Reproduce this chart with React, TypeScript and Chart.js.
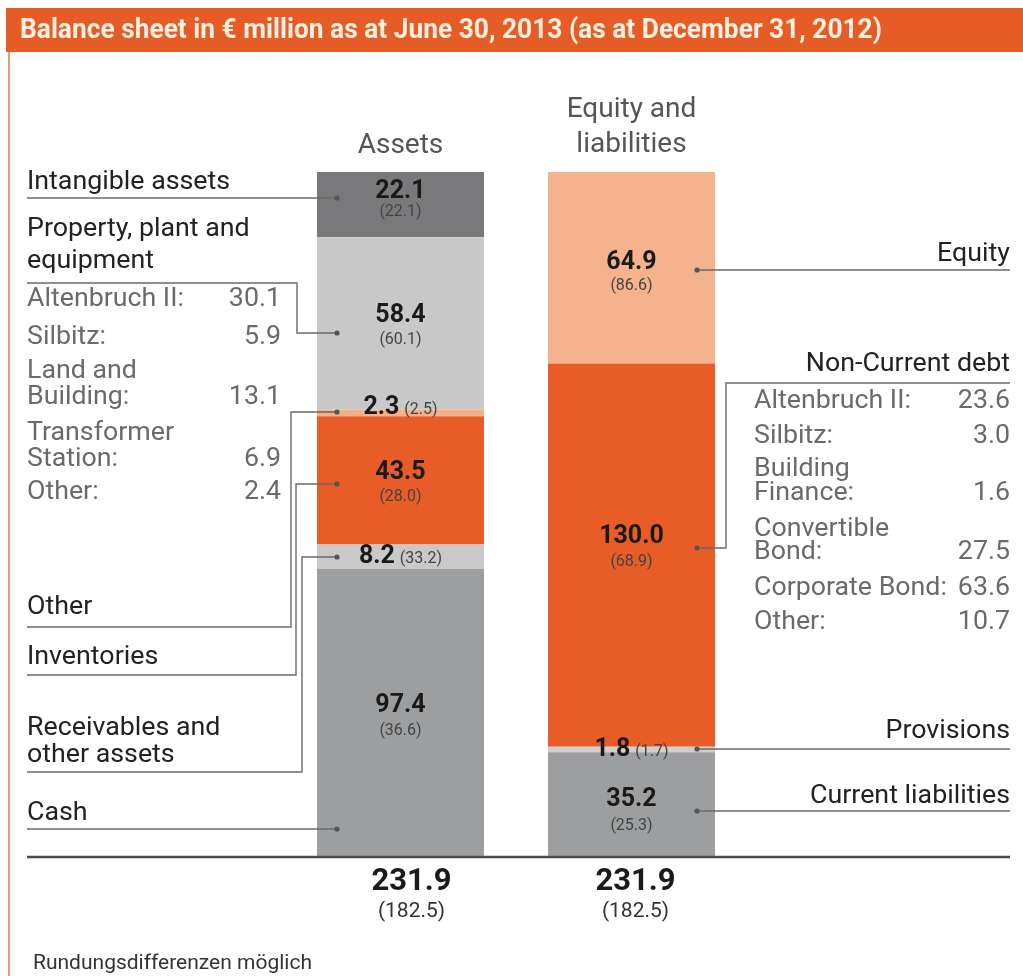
import React, { useEffect, useRef } from 'react';
import { Chart, registerables } from 'chart.js';

Chart.register(...registerables);

// ---------- data ----------
const categories = ['Assets', 'Equity and liabilities'];
const assetItems = ['Cash', 'Receivables and other assets', 'Inventories', 'Other', 'Property, plant and equipment', 'Intangible assets'];
const assetValues = [97.4, 8.2, 43.5, 2.3, 58.4, 22.1];
const assetPrior = [36.6, 33.2, 28.0, 2.5, 60.1, 22.1];
const liabilityItems = ['Current liabilities', 'Provisions', 'Non-Current debt', 'Equity'];
const liabilityValues = [35.2, 1.8, 130.0, 64.9];
const liabilityPrior = [25.3, 1.7, 68.9, 86.6];
const ppeItems = ['Altenbruch II:', 'Silbitz:', 'Land and\nBuilding:', 'Transformer\nStation:', 'Other:'];
const ppeValues = ['30.1', '5.9', '13.1', '6.9', '2.4'];
const debtItems = ['Altenbruch II:', 'Silbitz:', 'Building\nFinance:', 'Convertible\nBond:', 'Corporate Bond:', 'Other:'];
const debtValues = ['23.6', '3.0', '1.6', '27.5', '63.6', '10.7'];
const totals = ['231.9', '231.9'];
const totalsPrior = ['182.5', '182.5'];
const titleText = 'Balance sheet in € million as at June 30, 2013 (as at December 31, 2012)';
const footnote = 'Rundungsdifferenzen möglich';

// ---------- styles ----------
const assetColors = ['#9c9ea0', '#c9c9c9', '#e85d27', '#f4b089', '#c8c8c8', '#79797b'];
const liabilityColors = ['#9c9ea0', '#cfcfcf', '#e85d27', '#f4b38c'];
const ORANGE = '#e65c27';
const FONT = 'Roboto';
const LINE = '#6a6a6a';

// label layout (pixels)
const assetLabelLayout = [
  { lines: [813], path: [[27, 829], [337, 829]], boldY: 706, priorY: 731 },
  { lines: [728, 755], path: [[27, 772], [302, 772], [302, 557], [337, 557]], inline: 557 },
  { lines: [657], path: [[27, 675], [296, 675], [296, 484], [337, 484]], boldY: 473, priorY: 497 },
  { lines: [607], path: [[27, 627], [291, 627], [291, 412], [337, 412]], inline: 408 },
  { lines: [229, 261], path: [[27, 283], [297, 283], [297, 333], [337, 333]], boldY: 316, priorY: 340 },
  { lines: [182], path: [[27, 198], [337, 198]], boldY: 192, priorY: 212 },
];
const assetLabelText = [['Cash'], ['Receivables and', 'other assets'], ['Inventories'], ['Other'], ['Property, plant and', 'equipment'], ['Intangible assets']];
const liabilityLabelLayout = [
  { lines: [796], path: [[1010, 811], [697, 811]], boldY: 800, priorY: 826 },
  { lines: [731], path: [[1010, 749], [697, 749]], inline: 750 },
  { lines: [364], path: [[1010, 383], [726, 383], [726, 548], [697, 548]], boldY: 537, priorY: 562 },
  { lines: [254], path: [[1010, 270], [697, 270]], boldY: 263, priorY: 286 },
];
const ppeRows = [[300], [338], [372, 398], [434, 460], [493]];
const debtRows = [[402], [437], [470, 494], [530, 553], [589], [623]];

function txt(ctx: CanvasRenderingContext2D, s: string, x: number, y: number, font: string, color: string, align: CanvasTextAlign = 'left', sx = 1) {
  ctx.save();
  ctx.font = font;
  ctx.fillStyle = color;
  ctx.textBaseline = 'middle';
  ctx.textAlign = align;
  ctx.translate(x, y);
  ctx.scale(sx, 1);
  ctx.fillText(s, 0, 0);
  ctx.restore();
}

function leader(ctx: CanvasRenderingContext2D, pts: number[][]) {
  ctx.save();
  ctx.strokeStyle = LINE;
  ctx.lineWidth = 1.4;
  ctx.beginPath();
  pts.forEach((p, i) => (i === 0 ? ctx.moveTo(p[0], p[1]) : ctx.lineTo(p[0], p[1])));
  ctx.stroke();
  const end = pts[pts.length - 1];
  ctx.fillStyle = '#555';
  ctx.beginPath();
  ctx.arc(end[0], end[1], 2.6, 0, Math.PI * 2);
  ctx.fill();
  ctx.restore();
}

const decorPlugin = {
  id: 'decor',
  beforeDraw(chart: any) {
    const ctx = chart.ctx as CanvasRenderingContext2D;
    ctx.save();
    ctx.fillStyle = '#ffffff';
    ctx.fillRect(0, 0, chart.width, chart.height);
    // header band
    ctx.fillStyle = ORANGE;
    ctx.fillRect(6, 8, chart.width - 6, 44);
    // left frame line
    ctx.strokeStyle = '#ec9a72';
    ctx.lineWidth = 2;
    ctx.beginPath();
    ctx.moveTo(9, 52);
    ctx.lineTo(9, chart.height);
    ctx.stroke();
    ctx.restore();
    txt(ctx, titleText, 20, 31, `bold 27px ${FONT}`, '#fbf0e0', 'left', 0.975);
  },
  afterDatasetsDraw(chart: any) {
    const ctx = chart.ctx as CanvasRenderingContext2D;
    const xs = chart.scales.x;
    const cxA = xs.getPixelForValue(0);
    const cxL = xs.getPixelForValue(1);

    // column headers
    txt(ctx, 'Assets', cxA, 146, `28px ${FONT}`, '#555', 'center');
    txt(ctx, 'Equity and', cxL, 110, `28px ${FONT}`, '#555', 'center');
    txt(ctx, 'liabilities', cxL, 145, `28px ${FONT}`, '#555', 'center');

    const boldF = `bold 25px ${FONT}`;
    const priorF = `16px ${FONT}`;

    const drawValues = (lay: any, v: number, p: number, cx: number) => {
      if (lay.inline !== undefined) {
        ctx.save();
        ctx.font = boldF;
        const w1 = ctx.measureText(v.toFixed(1)).width;
        ctx.font = priorF;
        const w2 = ctx.measureText(`(${p.toFixed(1)})`).width;
        ctx.restore();
        const gap = 5;
        const start = cx - (w1 + gap + w2) / 2;
        txt(ctx, v.toFixed(1), start, lay.inline, boldF, '#1a1a1a');
        txt(ctx, `(${p.toFixed(1)})`, start + w1 + gap, lay.inline + 2, priorF, '#444');
      } else {
        txt(ctx, v.toFixed(1), cx, lay.boldY, boldF, '#1a1a1a', 'center');
        txt(ctx, `(${p.toFixed(1)})`, cx, lay.priorY, priorF, '#444', 'center');
      }
    };

    const labelF = `26px ${FONT}`;
    const labelSx = 1.03;
    assetItems.forEach((_, i) => {
      const lay = assetLabelLayout[i];
      drawValues(lay, assetValues[i], assetPrior[i], cxA);
      assetLabelText[i].forEach((s, j) => txt(ctx, s, 27, lay.lines[j], labelF, '#222', 'left', labelSx));
      leader(ctx, lay.path);
    });
    liabilityItems.forEach((name, i) => {
      const lay = liabilityLabelLayout[i];
      drawValues(lay, liabilityValues[i], liabilityPrior[i], cxL);
      txt(ctx, name, 1010, lay.lines[0], labelF, '#222', 'right', labelSx);
      leader(ctx, lay.path);
    });

    // breakdowns
    const subF = `25px ${FONT}`;
    const subSx = 1.07;
    ppeItems.forEach((s, i) => {
      const parts = s.split('\n');
      const rows = ppeRows[i];
      parts.forEach((p, j) => txt(ctx, p, 27, rows[j], subF, '#6a6a6a', 'left', subSx));
      txt(ctx, ppeValues[i], 281, rows[rows.length - 1], subF, '#6a6a6a', 'right', subSx);
    });
    debtItems.forEach((s, i) => {
      const parts = s.split('\n');
      const rows = debtRows[i];
      parts.forEach((p, j) => txt(ctx, p, 754, rows[j], subF, '#6a6a6a', 'left', subSx));
      txt(ctx, debtValues[i], 1010, rows[rows.length - 1], subF, '#6a6a6a', 'right', subSx);
    });

    // baseline
    const yb = chart.scales.y.getPixelForValue(0);
    ctx.save();
    ctx.strokeStyle = '#4a4a4a';
    ctx.lineWidth = 2.5;
    ctx.beginPath();
    ctx.moveTo(27, yb + 1);
    ctx.lineTo(1010, yb + 1);
    ctx.stroke();
    ctx.restore();

    // totals
    [cxA + 11, cxL + 4].forEach((x, i) => {
      txt(ctx, totals[i], x, 882, `bold 31px ${FONT}`, '#1a1a1a', 'center');
      txt(ctx, `(${totalsPrior[i]})`, x, 912, `21px ${FONT}`, '#333', 'center');
    });

    txt(ctx, footnote, 33, 964, `21px ${FONT}`, '#333');
  },
};

export default function App() {
  const ref = useRef<HTMLCanvasElement | null>(null);
  useEffect(() => {
    if (!ref.current) return;
    const datasets: any[] = [];
    assetItems.forEach((name, i) => {
      datasets.push({ label: name, data: [assetValues[i], null], backgroundColor: assetColors[i], stack: 's' });
    });
    liabilityItems.forEach((name, i) => {
      datasets.push({ label: name, data: [null, liabilityValues[i]], backgroundColor: liabilityColors[i], stack: 's' });
    });
    const total = assetValues.reduce((a, b) => a + b, 0);
    const chart = new Chart(ref.current, {
      type: 'bar',
      data: { labels: categories, datasets },
      options: {
        responsive: false,
        animation: false,
        layout: { padding: { left: 285, right: 276, top: 172, bottom: 120 } },
        plugins: { legend: { display: false }, tooltip: { enabled: false }, title: { display: false } },
        datasets: { bar: { categoryPercentage: 1, barPercentage: 0.723, borderWidth: 0 } },
        scales: {
          x: { display: false, stacked: true },
          y: { display: false, stacked: true, min: 0, max: total },
        },
      } as any,
      plugins: [decorPlugin],
    });
    return () => chart.destroy();
  }, []);
  return (
    <div style={{ position: 'absolute', left: 0, top: 0, width: 1023, height: 976 }}>
      <canvas ref={ref} width={1023} height={976} style={{ width: 1023, height: 976, display: 'block' }} />
    </div>
  );
}
